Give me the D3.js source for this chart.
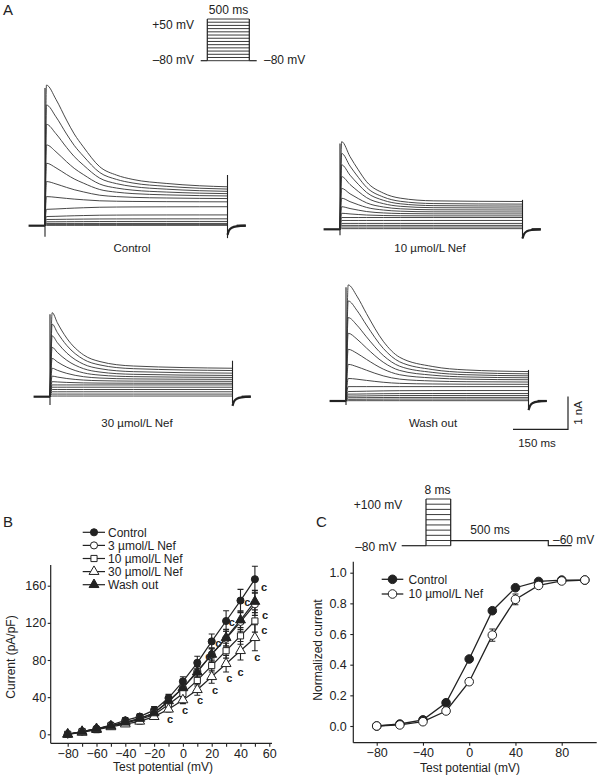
<!DOCTYPE html>
<html><head><meta charset="utf-8">
<script src="https://cdn.jsdelivr.net/npm/d3@7"></script>
<style>
body{margin:0;background:#fff}
svg{display:block}
text{font-family:"Liberation Sans",Arial,sans-serif;fill:#222}
</style>
</head><body>
<svg id="fig" width="600" height="779"></svg>
<script>
// ================= DATA =================
// Panel A: voltage protocol steps (mV)
const stepPotentialsA = [-80,-70,-60,-50,-40,-30,-20,-10,0,10,20,30,40,50];
// Panel A traces: peak and end-of-pulse current (nA) for each step
const ctlPeak  = [4.30,3.69,3.10,2.47,1.91,1.35,0.89,0.50,0.28,0.19,0.12,0.07,0.04,0.01];
const ctlEnd   = [1.19,1.12,1.05,0.98,0.91,0.83,0.73,0.58,0.33,0.21,0.13,0.07,0.04,0.01];
const nef10Peak= [2.68,2.32,1.97,1.61,1.25,0.95,0.69,0.49,0.36,0.27,0.18,0.12,0.07,0.02];
const nef10End = [0.85,0.77,0.71,0.65,0.59,0.53,0.47,0.41,0.36,0.27,0.18,0.12,0.07,0.02];
const nef30Peak= [2.57,2.22,1.86,1.51,1.17,0.87,0.63,0.46,0.36,0.29,0.22,0.15,0.08,0.02];
const nef30End = [0.87,0.80,0.72,0.65,0.59,0.53,0.47,0.41,0.36,0.29,0.22,0.15,0.08,0.02];
const washPeak = [3.55,3.06,2.55,2.07,1.58,1.12,0.69,0.44,0.29,0.21,0.15,0.10,0.05,0.01];
const washEnd  = [0.90,0.83,0.77,0.71,0.65,0.58,0.51,0.44,0.32,0.23,0.17,0.11,0.06,0.01];
// Inactivation time course (ms, fraction of peak-minus-end remaining)
const ctlDecayT  = [4,30,59,80,105,150,196,241,332,424,500];
const ctlDecayF  = [1,0.86,0.656,0.52,0.393,0.197,0.115,0.072,0.033,0.01,0];
const nef10DecayT= [4.6,27.5,50,73,119,165,257,500];
const nef10DecayF= [1,0.75,0.53,0.33,0.14,0.056,0.011,0];
const nef30DecayT= [6,20,46,92,137,229,500];
const nef30DecayF= [1,0.82,0.54,0.24,0.12,0.04,0];
const washDecayT = [6,30,56,102,147,238,329,500];
const washDecayF = [1,0.87,0.67,0.35,0.165,0.058,0.019,0];
// capacitive transient extents (nA): [start bottom, end top above last, end bottom]
const ctlTransient  = [-0.34,0.36,-0.38];
const nef10Transient= [-0.18,0.05,-0.28];
const nef30Transient= [-0.25,0.23,-0.20];
const washTransient = [-0.12,0.05,-0.22];
const tailT = [500,504,512,525,550];
const tailI = [-0.28,-0.15,-0.06,-0.02,0];
const captionsA = ["Control","10 µmol/L Nef","30 µmol/L Nef","Wash out"];

// Panel B: I-V relationship
const bX = [-80,-70,-60,-50,-40,-30,-20,-10,0,10,20,30,40,50];
const bControl = [0,3,6,10,15,19,26,39,57,77,100,122,144,167];
const bNef3    = [0,3,6,9,13,17,23,35,50,68,86,103,121,140];
const bNef10   = [0,3,5,9,12,16,21,32,44,58,74,90,106,122];
const bNef30   = [0,2,5,8,11,14,19,27,37,48,62,76,90,104];
const bWash    = [0,3,6,9,13,17,23,36,50,67,86,104,123,143];
const bControlErr = [2,2,2,2,3,3,4,4,5,7,8,11,12,14];
const bNef3Err    = [2,2,2,2,2,3,3,4,5,6,7,8,10,12];
const bNef10Err   = [2,2,2,2,2,3,3,3,5,6,7,8,9,12];
const bNef30Err   = [2,2,2,2,2,3,3,3,4,6,7,9,10,14];
const bWashErr    = [2,2,2,2,3,3,4,4,5,6,7,9,10,12];
const bLegend = ["Control","3 µmol/L Nef","10 µmol/L Nef","30 µmol/L Nef","Wash out"];
const bTicksX = [-80,-60,-40,-20,0,20,40,60];
const bMinorX = [-70,-50,-30,-10,10,30,50];
const bTicksY = [0,40,80,120,160];
// significance marks "c" (mV, pA/pF)
const sigX = [56.3,44.7,57.0,56.5,51.7,40.1,32.2,22.3,11.9,1.5,-8.9,24.6,33.9,17.6];
const sigY = [157.3,140.9,127.2,111.1,81.7,65.6,59.1,46.9,35.5,25.4,15.4,97.1,119.4,82.8];

// Panel C: activation curve
const cX = [-80,-60,-40,-20,0,20,40,60,80,100];
const cControl = [0,0.013,0.04,0.152,0.437,0.752,0.902,0.943,0.952,0.952];
const cNef10   = [0,0.007,0.028,0.098,0.289,0.593,0.826,0.917,0.946,0.952];
const cControlErr = [0.01,0.01,0.01,0.02,0.01,0.015,0.012,0.01,0.01,0.01];
const cNef10Err   = [0.01,0.01,0.01,0.01,0.012,0.04,0.035,0.012,0.01,0.01];
const cLegend = ["Control","10 µmol/L Nef"];
const cTicksX = [-80,-40,0,40,80];
const cTicksY = [0,0.2,0.4,0.6,0.8,1.0];

// ================= DRAWING =================
const svg = d3.select("#fig");
svg.append("rect").attr("width",600).attr("height",779).attr("fill","#fff");
const INK = "#222";

// panel letters
svg.append("text").attr("x",3).attr("y",15).attr("font-size",15).text("A");
svg.append("text").attr("x",3).attr("y",527).attr("font-size",15).text("B");
svg.append("text").attr("x",316).attr("y",527).attr("font-size",15).text("C");

// ---- Protocol A ----
(function(){
  const g = svg.append("g");
  const ty = d3.scaleLinear().domain([-80,50]).range([60.7,19]);
  const tx = d3.scaleLinear().domain([0,500]).range([207.3,249.3]);
  g.append("line").attr("x1",200.7).attr("x2",tx(0)).attr("y1",ty(-80)).attr("y2",ty(-80)).attr("stroke",INK).attr("stroke-width",1.2);
  g.append("line").attr("x1",tx(500)).attr("x2",256.7).attr("y1",ty(-80)).attr("y2",ty(-80)).attr("stroke",INK).attr("stroke-width",1.2);
  g.selectAll("line.step").data(stepPotentialsA).enter().append("line")
    .attr("x1",tx(0)).attr("x2",tx(500)).attr("y1",d=>ty(d)).attr("y2",d=>ty(d))
    .attr("stroke",INK).attr("stroke-width",0.9);
  [0,500].forEach(t=>g.append("line").attr("x1",tx(t)).attr("x2",tx(t)).attr("y1",ty(-80)).attr("y2",ty(50)).attr("stroke",INK).attr("stroke-width",1.2));
  g.append("text").attr("x",228.5).attr("y",13.5).attr("text-anchor","middle").attr("font-size",12).text("500 ms");
  g.append("text").attr("x",194).attr("y",29).attr("text-anchor","end").attr("font-size",12).text("+50 mV");
  g.append("text").attr("x",194).attr("y",64).attr("text-anchor","end").attr("font-size",12).text("–80 mV");
  g.append("text").attr("x",264).attr("y",64).attr("font-size",12).text("–80 mV");
})();

// ---- Current traces ----
function drawTraces(x0, y0, peaks, ends, decT, decF, trans, caption, capX, capY){
  const g = svg.append("g");
  const x = d3.scaleLinear().domain([0,500]).range([x0, x0+182.5]);
  const y = d3.scaleLinear().domain([0,1]).range([y0, y0-32.7]);
  const line = d3.line().x(d=>x(d[0])).y(d=>y(d[1])).curve(d3.curveMonotoneX);
  // holding baselines (many superimposed sweeps)
  g.append("line").attr("x1",x(-45)).attr("x2",x(0)).attr("y1",y(0)).attr("y2",y(0)).attr("stroke",INK).attr("stroke-width",2.2);
  g.append("path").attr("d",line(tailT.map((t,i)=>[t,tailI[i]]))).attr("fill","none").attr("stroke",INK).attr("stroke-width",2.2);
  g.append("line").attr("x1",x(550)).attr("x2",x(550)+0.01).attr("y1",y(0)).attr("y2",y(0));
  g.append("path").attr("d",line([[550,0],[550,0]])).attr("stroke",INK);
  g.append("line").attr("x1",x(525)).attr("x2",x(550)).attr("y1",y(0)).attr("y2",y(0)).attr("stroke",INK).attr("stroke-width",2.2);
  peaks.forEach((p,i)=>{
    const e = ends[i];
    const pts = [[0,0]].concat(decT.map((t,j)=>[t, e+(p-e)*decF[j]]));
    g.append("path").attr("d",line(pts)).attr("fill","none").attr("stroke","#333").attr("stroke-width",0.9);
  });
  // capacitive transients
  g.append("line").attr("x1",x(0)).attr("x2",x(0)).attr("y1",y(trans[0])).attr("y2",y(peaks[0]*0.98)).attr("stroke",INK).attr("stroke-width",1.1);
  g.append("line").attr("x1",x(500)).attr("x2",x(500)).attr("y1",y(trans[2])).attr("y2",y(ends[0]+trans[1])).attr("stroke",INK).attr("stroke-width",1.1);
  g.append("text").attr("x",capX).attr("y",capY).attr("text-anchor","middle").attr("font-size",11.5).text(caption);
}
drawTraces(45,225.7,ctlPeak,ctlEnd,ctlDecayT,ctlDecayF,ctlTransient,captionsA[0],132,252);
drawTraces(340,229.3,nef10Peak,nef10End,nef10DecayT,nef10DecayF,nef10Transient,captionsA[1],430,252);
drawTraces(50,396.7,nef30Peak,nef30End,nef30DecayT,nef30DecayF,nef30Transient,captionsA[2],137,427);
drawTraces(346,401,washPeak,washEnd,washDecayT,washDecayF,washTransient,captionsA[3],433,427);

// scale bar
(function(){
  const g = svg.append("g");
  const yb = d3.scaleLinear().domain([0,1]).range([429.3,396.6]);   // nA
  const xb = d3.scaleLinear().domain([0,150]).range([568,513]);     // ms
  g.append("path").attr("d",`M${xb(150)},${yb(0)}H${xb(0)}V${yb(1)}`).attr("fill","none").attr("stroke",INK).attr("stroke-width",1.2);
  g.append("text").attr("transform",`translate(582,${(yb(0)+yb(1))/2}) rotate(-90)`).attr("text-anchor","middle").attr("font-size",11.5).text("1 nA");
  g.append("text").attr("x",537).attr("y",447).attr("text-anchor","middle").attr("font-size",11.5).text("150 ms");
})();

// marker helper
function marker(sel, type, size){
  const fill = (type==="fc"||type==="ft") ? INK : "#fff";
  let sym;
  if(type==="fc"||type==="oc") sym = d3.symbol().type(d3.symbolCircle).size(size);
  else if(type==="os") sym = d3.symbol().type(d3.symbolSquare).size(size*0.95);
  else sym = d3.symbol().type(d3.symbolTriangle).size(size*1.05);
  sel.append("path").attr("d",sym()).attr("fill",fill).attr("stroke",INK).attr("stroke-width",1);
}

// ---- Panel B ----
(function(){
  const g = svg.append("g");
  const x = d3.scaleLinear().domain([-80,60]).range([67.7,269.3]);
  const y = d3.scaleLinear().domain([0,160]).range([734.3,585.7]);
  const xAxY = 743.3, yAxX = 50.7;
  // axes
  g.append("line").attr("x1",yAxX).attr("x2",yAxX).attr("y1",565).attr("y2",xAxY).attr("stroke",INK).attr("stroke-width",1.2);
  g.append("line").attr("x1",yAxX).attr("x2",272).attr("y1",xAxY).attr("y2",xAxY).attr("stroke",INK).attr("stroke-width",1.2);
  const ax = g.append("g").attr("transform",`translate(0,${xAxY})`)
    .call(d3.axisBottom(x).tickValues(bTicksX).tickSize(3.5).tickPadding(2.5).tickFormat(d=>d<0?"\u2212"+(-d):d));
  const axm = g.append("g").attr("transform",`translate(0,${xAxY})`)
    .call(d3.axisBottom(x).tickValues(bMinorX).tickSize(3.5).tickFormat(""));
  const ay = g.append("g").attr("transform",`translate(${yAxX},0)`)
    .call(d3.axisLeft(y).tickValues(bTicksY).tickSize(3).tickPadding(1.5));
  [ax,axm,ay].forEach(a=>{a.select(".domain").remove(); a.selectAll("line").attr("stroke",INK).attr("stroke-width",1.1); a.selectAll("text").attr("font-size",12.5).attr("font-family","Liberation Sans, Arial, sans-serif").attr("fill",INK);});
  g.append("text").attr("x",163).attr("y",771).attr("text-anchor","middle").attr("font-size",12).text("Test potential (mV)");
  g.append("text").attr("transform","translate(15,657) rotate(-90)").attr("text-anchor","middle").attr("font-size",12).text("Current (pA/pF)");

  const series = [
    {v:bControl,e:bControlErr,m:"fc"},
    {v:bNef3,e:bNef3Err,m:"oc"},
    {v:bNef10,e:bNef10Err,m:"os"},
    {v:bNef30,e:bNef30Err,m:"ot"},
    {v:bWash,e:bWashErr,m:"ft"}
  ];
  const line = d3.line().x((d,i)=>x(bX[i])).y(d=>y(d));
  series.forEach(s=>{
    g.append("path").attr("d",line(s.v)).attr("fill","none").attr("stroke",INK).attr("stroke-width",1.2);
  });
  series.forEach(s=>{
    s.v.forEach((v,i)=>{
      const xx = x(bX[i]);
      g.append("path").attr("d",`M${xx},${y(v-s.e[i])}V${y(v+s.e[i])}M${xx-3},${y(v+s.e[i])}H${xx+3}M${xx-3},${y(v-s.e[i])}H${xx+3}`)
        .attr("stroke",INK).attr("stroke-width",1.1).attr("fill","none");
    });
  });
  series.forEach(s=>{
    s.v.forEach((v,i)=>{
      marker(g.append("g").attr("transform",`translate(${x(bX[i])},${y(v)})`), s.m, 40);
    });
  });
  // significance marks
  sigX.forEach((sx,i)=>{
    g.append("text").attr("x",x(sx)).attr("y",y(sigY[i])+3).attr("text-anchor","middle")
      .attr("font-family","Liberation Serif, serif").attr("font-size",11).attr("font-weight","bold").text("c");
  });
  // legend
  bLegend.forEach((name,i)=>{
    const yy = 532.3 + 13.1*i;
    g.append("line").attr("x1",82.7).attr("x2",105).attr("y1",yy).attr("y2",yy).attr("stroke",INK).attr("stroke-width",1.2);
    marker(g.append("g").attr("transform",`translate(94,${yy})`), series[i].m, 40);
    g.append("text").attr("x",108).attr("y",yy+4.3).attr("font-size",12).text(name);
  });
})();

// ---- Panel C ----
(function(){
  const g = svg.append("g");
  // protocol
  const py = d3.scaleLinear().domain([-80,100]).range([545.7,499]);
  const px = d3.scaleLinear().domain([0,8]).range([426,450.7]);
  g.append("line").attr("x1",401.7).attr("x2",px(0)).attr("y1",py(-80)).attr("y2",py(-80)).attr("stroke",INK).attr("stroke-width",1.2);
  g.selectAll("line.cs").data(cX).enter().append("line")
    .attr("x1",px(0)).attr("x2",px(8)).attr("y1",d=>py(d)).attr("y2",d=>py(d)).attr("stroke",INK).attr("stroke-width",0.9);
  [0,8].forEach(t=>g.append("line").attr("x1",px(t)).attr("x2",px(t)).attr("y1",py(-80)).attr("y2",py(100)).attr("stroke",INK).attr("stroke-width",1.2));
  g.append("path").attr("d",`M${px(8)},540.7H548.3V${py(-80)}H571.7`).attr("fill","none").attr("stroke",INK).attr("stroke-width",1.2);
  g.append("text").attr("x",437.5).attr("y",494).attr("text-anchor","middle").attr("font-size",12).text("8 ms");
  g.append("text").attr("x",378).attr("y",508.5).attr("text-anchor","middle").attr("font-size",12).text("+100 mV");
  g.append("text").attr("x",490).attr("y",534).attr("text-anchor","middle").attr("font-size",12).text("500 ms");
  g.append("text").attr("x",553).attr("y",543.5).attr("font-size",12).text("–60 mV");
  g.append("text").attr("x",396.5).attr("y",551).attr("text-anchor","end").attr("font-size",12).text("–80 mV");

  const x = d3.scaleLinear().domain([-80,80]).range([376.7,561.7]);
  const y = d3.scaleLinear().domain([0,1]).range([726,572.7]);
  const xAxY = 742.7, yAxX = 353.3;
  g.append("line").attr("x1",yAxX).attr("x2",yAxX).attr("y1",561.7).attr("y2",xAxY).attr("stroke",INK).attr("stroke-width",1.2);
  g.append("line").attr("x1",yAxX).attr("x2",596.7).attr("y1",xAxY).attr("y2",xAxY).attr("stroke",INK).attr("stroke-width",1.2);
  const ax = g.append("g").attr("transform",`translate(0,${xAxY})`)
    .call(d3.axisBottom(x).tickValues(cTicksX).tickSize(3).tickPadding(2).tickFormat(d=>d<0?"\u2212"+(-d):d));
  const ay = g.append("g").attr("transform",`translate(${yAxX},0)`)
    .call(d3.axisLeft(y).tickValues(cTicksY).tickSize(3).tickPadding(3.5).tickFormat(d3.format(".1f")));
  [ax,ay].forEach(a=>{a.select(".domain").remove(); a.selectAll("line").attr("stroke",INK).attr("stroke-width",1.1); a.selectAll("text").attr("font-size",12.5).attr("font-family","Liberation Sans, Arial, sans-serif").attr("fill",INK);});
  g.append("text").attr("x",470).attr("y",772).attr("text-anchor","middle").attr("font-size",12).text("Test potential (mV)");
  g.append("text").attr("transform","translate(322,650) rotate(-90)").attr("text-anchor","middle").attr("font-size",12).text("Normalized current");

  const series = [{v:cControl,e:cControlErr,m:"fc"},{v:cNef10,e:cNef10Err,m:"oc"}];
  const line = d3.line().x((d,i)=>x(cX[i])).y(d=>y(d));
  series.forEach(s=>g.append("path").attr("d",line(s.v)).attr("fill","none").attr("stroke",INK).attr("stroke-width",1.3));
  series.forEach(s=>s.v.forEach((v,i)=>{
    const xx = x(cX[i]);
    g.append("path").attr("d",`M${xx},${y(v-s.e[i])}V${y(v+s.e[i])}M${xx-3},${y(v+s.e[i])}H${xx+3}M${xx-3},${y(v-s.e[i])}H${xx+3}`)
      .attr("stroke",INK).attr("stroke-width",1.1).attr("fill","none");
  }));
  series.forEach(s=>s.v.forEach((v,i)=>marker(g.append("g").attr("transform",`translate(${x(cX[i])},${y(v)})`), s.m, 58)));
  cLegend.forEach((name,i)=>{
    const yy = 579.3 + 14.7*i;
    g.append("line").attr("x1",381.7).attr("x2",403.3).attr("y1",yy).attr("y2",yy).attr("stroke",INK).attr("stroke-width",1.3);
    marker(g.append("g").attr("transform",`translate(392.5,${yy})`), series[i].m, 58);
    g.append("text").attr("x",408.5).attr("y",yy+4.3).attr("font-size",12).text(name);
  });
})();
</script>
</body></html>
